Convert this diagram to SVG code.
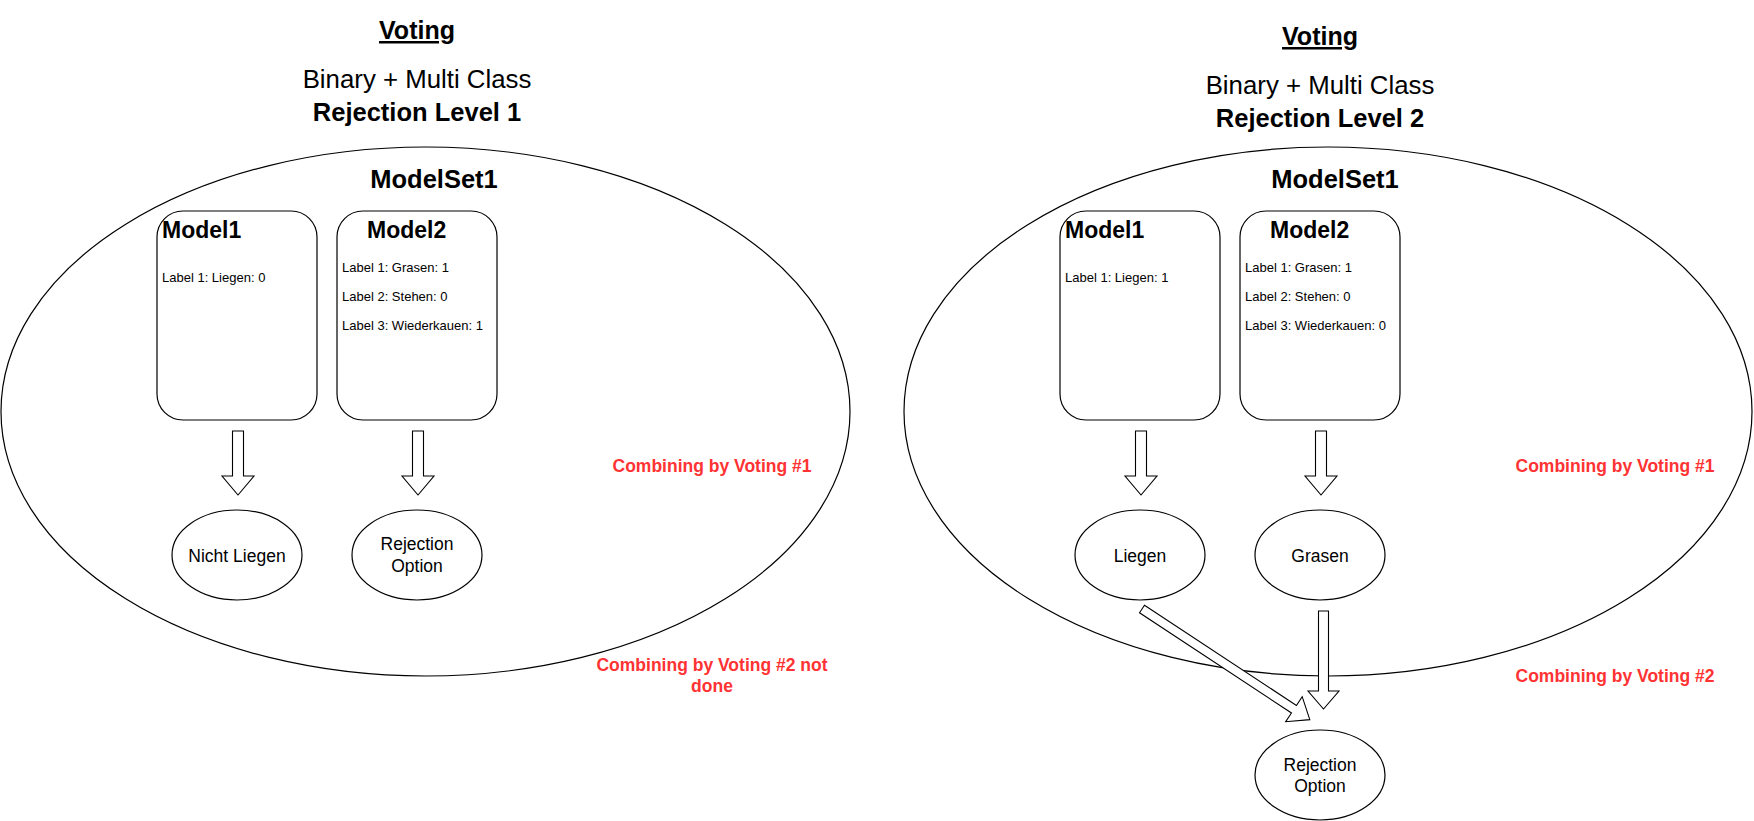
<svg xmlns="http://www.w3.org/2000/svg" width="1754" height="821" viewBox="0 0 1754 821">
<style>
text{font-family:"Liberation Sans",Arial,Helvetica,sans-serif;fill:#000}
.shape{fill:#fff;stroke:#000;stroke-width:1.2}
.big{fill:none;stroke:#000;stroke-width:1.2}
.title{font-size:25px;font-weight:bold;text-anchor:middle;text-decoration:underline}
.sub{font-size:25.8px;text-anchor:middle}
.subb{font-size:25.5px;font-weight:bold;text-anchor:middle}
.mtitle{font-size:23px;font-weight:bold}
.lbl{font-size:13px}
.etxt{font-size:17.5px;text-anchor:middle}
.red{font-size:17.5px;font-weight:bold;fill:#FF3333;text-anchor:middle}
.arr{fill:#fff;stroke:#000;stroke-width:1.1;stroke-linejoin:miter}
</style>
<defs>
<polygon id="a64" points="0,-5.5 45,-5.5 45,-16 64,0 45,16 45,5.5 0,5.5"/>
<polygon id="a98" points="0,-5 80,-5 80,-15.5 98,0 80,15.5 80,5 0,5"/>
<polygon id="a201" points="0,-4.5 182,-4.5 182,-15 201,0 182,15 182,4.5 0,4.5"/>
</defs>

<g id="left-headings">
<text class="title" x="417" y="39">Voting</text>
<text class="sub" x="417" y="88">Binary + Multi Class</text>
<text class="subb" x="417" y="121">Rejection Level 1</text>
</g>
<g id="left-modelset">
<ellipse class="big" cx="425.5" cy="411.5" rx="424.5" ry="264.5"/>
<text class="subb" x="434" y="188">ModelSet1</text>
</g>
<g id="left-model1">
<rect class="shape" x="157" y="211" width="160" height="209" rx="26" ry="26"/>
<text class="mtitle" x="162" y="238">Model1</text>
<text class="lbl" x="162" y="282">Label 1: Liegen: 0</text>
</g>
<g id="left-model2">
<rect class="shape" x="337" y="211" width="160" height="209" rx="26" ry="26"/>
<text class="mtitle" x="367" y="238">Model2</text>
<text class="lbl" x="342" y="272">Label 1: Grasen: 1</text>
<text class="lbl" x="342" y="301">Label 2: Stehen: 0</text>
<text class="lbl" x="342" y="330">Label 3: Wiederkauen: 1</text>
</g>
<g id="left-nicht-liegen">
<ellipse class="shape" cx="237" cy="555" rx="65" ry="45"/>
<text class="etxt" x="237" y="561.5">Nicht Liegen</text>
</g>
<g id="left-rejection">
<ellipse class="shape" cx="417" cy="555" rx="65" ry="45"/>
<text class="etxt" x="417" y="550">Rejection</text>
<text class="etxt" x="417" y="571.5">Option</text>
</g>
<g id="left-notes">
<text class="red" x="712" y="471.5">Combining by Voting #1</text>
<text class="red" x="712" y="670.5">Combining by Voting #2 not</text>
<text class="red" x="712" y="691.5">done</text>
</g>

<g id="right-headings">
<text class="title" x="1320" y="45">Voting</text>
<text class="sub" x="1320" y="94">Binary + Multi Class</text>
<text class="subb" x="1320" y="127">Rejection Level 2</text>
</g>
<g id="right-modelset">
<ellipse class="big" cx="1328" cy="411.5" rx="424" ry="264.5"/>
<text class="subb" x="1335" y="188">ModelSet1</text>
</g>
<g id="right-model1">
<rect class="shape" x="1060" y="211" width="160" height="209" rx="26" ry="26"/>
<text class="mtitle" x="1065" y="238">Model1</text>
<text class="lbl" x="1065" y="282">Label 1: Liegen: 1</text>
</g>
<g id="right-model2">
<rect class="shape" x="1240" y="211" width="160" height="209" rx="26" ry="26"/>
<text class="mtitle" x="1270" y="238">Model2</text>
<text class="lbl" x="1245" y="272">Label 1: Grasen: 1</text>
<text class="lbl" x="1245" y="301">Label 2: Stehen: 0</text>
<text class="lbl" x="1245" y="330">Label 3: Wiederkauen: 0</text>
</g>
<g id="right-liegen">
<ellipse class="shape" cx="1140" cy="555" rx="65" ry="45"/>
<text class="etxt" x="1140" y="561.5">Liegen</text>
</g>
<g id="right-grasen">
<ellipse class="shape" cx="1320" cy="555" rx="65" ry="45"/>
<text class="etxt" x="1320" y="561.5">Grasen</text>
</g>
<g id="right-rejection">
<ellipse class="shape" cx="1320" cy="775" rx="65" ry="45"/>
<text class="etxt" x="1320" y="770.5">Rejection</text>
<text class="etxt" x="1320" y="792">Option</text>
</g>
<g id="right-notes">
<text class="red" x="1615" y="471.5">Combining by Voting #1</text>
<text class="red" x="1615" y="681.5">Combining by Voting #2</text>
</g>

<g id="connectors">
<use href="#a64" class="arr" transform="translate(238,431) rotate(90)"/>
<use href="#a64" class="arr" transform="translate(418,431) rotate(90)"/>
<use href="#a64" class="arr" transform="translate(1141,431) rotate(90)"/>
<use href="#a64" class="arr" transform="translate(1321,431) rotate(90)"/>
<use href="#a201" class="arr" transform="translate(1142,609) rotate(33.4)"/>
<use href="#a98" class="arr" transform="translate(1323.5,611) rotate(90)"/>
</g>
</svg>
